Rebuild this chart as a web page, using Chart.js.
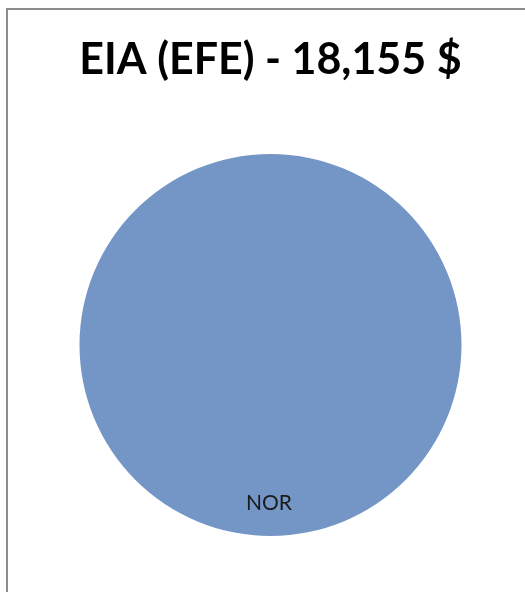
<!DOCTYPE html>
<html>
<head>
<meta charset="utf-8">
<script src="https://cdn.jsdelivr.net/npm/chart.js@4.4.1/dist/chart.umd.min.js"></script>
<style>
    html, body { margin: 0; padding: 0; background: #fff; overflow: hidden; }
    #frame {
        position: absolute; left: 6px; top: 8px; width: 600px; height: 700px;
        border-left: 2px solid #8c8c8c; border-top: 2px solid #8c8c8c;
        pointer-events: none;
    }
    #wrap { position: absolute; left: 0; top: 0; width: 525px; height: 592px; }
</style>
</head>
<body>
<div id="wrap"><canvas id="pie-chart" width="525" height="592"></canvas></div>
<div id="frame"></div>
<script>
// dados do gráfico
const chartTitle = 'EIA (EFE) - 18,155 $';
const categories = ['NOR'];
const values = [18155];
const sliceColors = ['#7396c6'];

// rótulo da fatia dentro do círculo, perto da borda de baixo
const sliceLabelPlugin = {
    id: 'sliceLabel',
    afterDatasetsDraw(chart) {
        const ctx = chart.ctx;
        const meta = chart.getDatasetMeta(0);
        meta.data.forEach((arc, i) => {
            const x = arc.x - 1.5;
            const y = arc.y + arc.outerRadius * 0.83;
            ctx.save();
            ctx.font = '21px Lato, "Open Sans", sans-serif';
            ctx.fillStyle = '#1a1a1a';
            ctx.textAlign = 'center';
            ctx.textBaseline = 'middle';
            ctx.fillText(chart.data.labels[i], x, y);
            ctx.restore();
        });
    }
};

new Chart(document.getElementById('pie-chart'), {
    type: 'pie',
    data: {
        labels: categories,
        datasets: [{
            data: values,
            backgroundColor: sliceColors,
            borderWidth: 0,
        }]
    },
    options: {
        responsive: false,
        animation: false,
        layout: {
            padding: { top: 10, left: 79, right: 63, bottom: 56 }
        },
        plugins: {
            legend: { display: false },
            tooltip: { enabled: false },
            title: {
                display: true,
                text: chartTitle,
                color: '#000',
                font: { family: 'Lato, "Open Sans", sans-serif', size: 43, weight: 'bold', lineHeight: 1.2 },
                padding: { top: 24, bottom: 68.4 },
            },
        },
    },
    plugins: [sliceLabelPlugin]
});
</script>
</body>
</html>
